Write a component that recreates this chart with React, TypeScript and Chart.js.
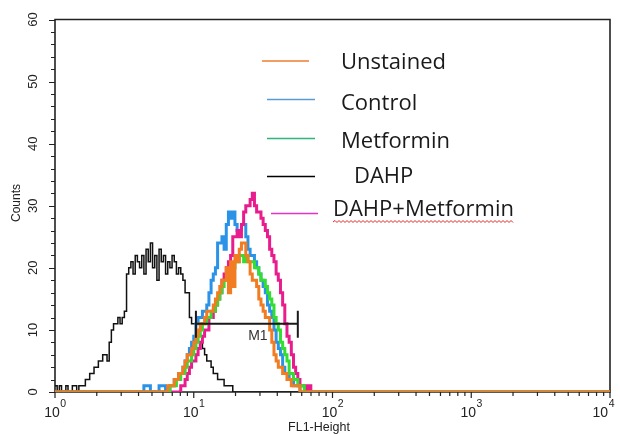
import { useEffect, useRef } from 'react';
import { Chart, registerables } from 'chart.js';

Chart.register(...registerables);

// Flow-cytometry histogram: 256 channels spanning four log decades of FL1-Height.
const channelCount = 256;
const channelsPerDecade = 64;
const decadeExponents = [0, 1, 2, 3, 4];
const countTicks = [0, 10, 20, 30, 40, 50, 60];
const countMinorStep = 2;
const countMax = 60;

const seriesNames = ['Unstained', 'Control', 'Metformin', 'DAHP', 'DAHP+Metformin'];

// Counts per channel; each list begins at its start channel, channels outside are 0.
const dahpStart = 0;
const dahpCounts = [
  1, 0, 1, 0, 0, 1, 0, 0, 1, 1,
  0, 1, 1, 1, 2, 2, 3, 3, 4, 4,
  5, 5, 6, 6, 5, 8, 10, 11, 11, 12,
  11, 12, 13, 19, 20, 21, 19, 22, 21, 20,
  22, 19, 23, 21, 24, 20, 22, 18, 23, 21,
  22, 19, 21, 20, 22, 21, 19, 20, 19, 18,
  16, 16, 12, 11, 11, 10, 8, 8, 7, 6,
  5, 5, 4, 3, 3, 2, 2, 2, 1, 1,
  1, 1, 0, 0,
];

const peakStart = 40;
const unstainedCounts = [
  0, 0, 0, 0, 0, 0, 0, 0, 0, 0,
  0, 0, 1, 1, 1, 2, 2, 3, 3, 4,
  5, 6, 6, 7, 8, 9, 10, 11, 11, 12,
  13, 13, 13, 14, 15, 16, 17, 18, 18, 20,
  16, 21, 17, 22, 21, 23, 24, 24, 22, 21,
  19, 18, 18, 17, 15, 14, 13, 12, 12, 10,
  8, 6, 5, 4, 4, 3, 3, 2, 2, 1,
  1, 1, 1, 0,
];
const controlCounts = [
  0, 1, 1, 1, 0, 0, 0, 0, 1, 1,
  1, 0, 0, 1, 1, 2, 2, 3, 3, 4,
  5, 6, 7, 8, 9, 11, 12, 12, 13, 13,
  14, 16, 18, 19, 20, 24, 24, 25, 23, 27,
  29, 28, 29, 27, 26, 26, 27, 27, 25, 23,
  22, 22, 21, 20, 19, 18, 17, 16, 14, 13,
  12, 10, 8, 7, 6, 4, 3, 3, 2, 2,
  1, 1, 1, 0,
];
const metforminCounts = [
  0, 0, 0, 0, 0, 0, 0, 0, 0, 0,
  0, 0, 0, 1, 1, 1, 2, 2, 3, 3,
  4, 5, 5, 6, 7, 8, 9, 10, 11, 11,
  12, 12, 13, 13, 14, 15, 16, 17, 18, 18,
  19, 19, 20, 21, 21, 22, 22, 21, 22, 21,
  21, 21, 20, 20, 19, 18, 18, 17, 16, 15,
  14, 12, 11, 10, 8, 7, 6, 5, 3, 3,
  2, 2, 1, 1, 1, 0,
];
const dahpMetforminCounts = [
  0, 0, 0, 0, 0, 0, 0, 0, 0, 0,
  0, 0, 0, 0, 0, 0, 0, 0, 1, 1,
  2, 3, 4, 5, 5, 6, 7, 8, 9, 10,
  10, 12, 12, 13, 14, 15, 16, 18, 19, 20,
  21, 22, 25, 25, 26, 25, 27, 29, 30, 30,
  31, 32, 30, 29, 29, 28, 27, 26, 25, 23,
  22, 21, 19, 18, 16, 14, 11, 9, 8, 6,
  4, 3, 2, 1, 1, 1, 0, 1, 0, 0,
];

// Gate M1 (channel range) and the count level where its bar is drawn.
const markerName = 'M1';
const markerChannels = [65, 112];
const markerLevel = 11;

const curveColors = ['#f27c22', '#2a93e8', '#33dd33', '#111111', '#e81c8c'];
const legendColors = ['#ed7d31', '#5b9bd5', '#2fb47b', '#000000', '#e233c8'];

function toSteps(start: number, counts: number[]) {
  const pts: { x: number; y: number }[] = [];
  for (let ch = 0; ch < channelCount; ch++) {
    const i = ch - start;
    pts.push({ x: ch, y: i >= 0 && i < counts.length ? counts[i] : 0 });
  }
  pts.push({ x: channelCount, y: 0 });
  return pts;
}

const AXIS_FONT = '"Liberation Sans", Arial, sans-serif';
const LEGEND_FONT = '"Open Sans", "Noto Sans", sans-serif';

const framePlugin = {
  id: 'cytometryFrame',
  beforeDatasetsDraw(chart: any) {
    const { ctx, chartArea } = chart;
    const xs = chart.scales.x;
    const ys = chart.scales.y;
    const { left, right, top, bottom } = chartArea;
    ctx.save();

    // box
    ctx.strokeStyle = '#222';
    ctx.lineWidth = 1.6;
    ctx.beginPath();
    ctx.moveTo(left, bottom);
    ctx.lineTo(left, top);
    ctx.lineTo(right, top);
    ctx.lineTo(right, bottom);
    ctx.lineTo(left, bottom);
    ctx.stroke();

    // y ticks
    ctx.lineWidth = 1.2;
    ctx.beginPath();
    for (let v = 0; v <= countMax; v += countMinorStep) {
      const y = Math.round(ys.getPixelForValue(v)) + 0.5;
      const major = countTicks.includes(v);
      ctx.moveTo(left, y);
      ctx.lineTo(left - (major ? 6 : 4), y);
    }
    // x ticks (log decades)
    for (let k = 0; k < decadeExponents.length; k++) {
      const xd = xs.getPixelForValue(decadeExponents[k] * channelsPerDecade);
      ctx.moveTo(xd, bottom);
      ctx.lineTo(xd, bottom + 6);
      if (k < decadeExponents.length - 1) {
        for (let m = 2; m <= 9; m++) {
          const x = xs.getPixelForValue((decadeExponents[k] + Math.log10(m)) * channelsPerDecade);
          ctx.moveTo(x, bottom);
          ctx.lineTo(x, bottom + 4);
        }
      }
    }
    ctx.stroke();

    // y tick labels (rotated)
    ctx.fillStyle = '#222';
    ctx.font = `13px ${AXIS_FONT}`;
    ctx.textAlign = 'center';
    ctx.textBaseline = 'middle';
    for (const v of countTicks) {
      const y = ys.getPixelForValue(v);
      ctx.save();
      ctx.translate(33, y);
      ctx.rotate(-Math.PI / 2);
      ctx.fillText(String(v), 0, 0);
      ctx.restore();
    }
    // y title
    ctx.save();
    ctx.font = `12px ${AXIS_FONT}`;
    ctx.translate(17, 203);
    ctx.rotate(-Math.PI / 2);
    ctx.fillText('Counts', 0, 0);
    ctx.restore();

    // x decade labels 10^k
    ctx.textAlign = 'left';
    ctx.textBaseline = 'alphabetic';
    for (const e of decadeExponents) {
      const x = xs.getPixelForValue(e * channelsPerDecade);
      ctx.font = `14px ${AXIS_FONT}`;
      const wb = ctx.measureText('10').width;
      ctx.font = `10.5px ${AXIS_FONT}`;
      const ws = ctx.measureText(String(e)).width;
      let l = x - (wb + ws) / 2;
      if (l + wb + ws > 614) l = 614 - wb - ws;
      ctx.font = `14px ${AXIS_FONT}`;
      ctx.fillText('10', l, 417);
      ctx.font = `10.5px ${AXIS_FONT}`;
      ctx.fillText(String(e), l + wb + 0.5, 407);
    }
    // x title
    ctx.font = `12.5px ${AXIS_FONT}`;
    ctx.textAlign = 'center';
    ctx.fillText('FL1-Height', 319, 431);

    ctx.restore();
  },
  afterDatasetsDraw(chart: any) {
    const { ctx } = chart;
    const xs = chart.scales.x;
    const ys = chart.scales.y;
    ctx.save();

    // gate marker
    const x1 = xs.getPixelForValue(markerChannels[0]);
    const x2 = xs.getPixelForValue(markerChannels[1]);
    const ym = ys.getPixelForValue(markerLevel);
    ctx.strokeStyle = '#1a1a1a';
    ctx.lineWidth = 2;
    ctx.beginPath();
    ctx.moveTo(x1, ym);
    ctx.lineTo(x2, ym);
    ctx.moveTo(x1, ym - 13);
    ctx.lineTo(x1, ym + 14);
    ctx.moveTo(x2, ym - 13);
    ctx.lineTo(x2, ym + 14);
    ctx.stroke();
    ctx.fillStyle = '#333';
    ctx.font = `14px ${AXIS_FONT}`;
    ctx.textAlign = 'center';
    ctx.textBaseline = 'alphabetic';
    ctx.fillText(markerName, (x1 + x2) / 2 + 11, 340);

    // legend
    const rows = [
      { x1: 262, x2: 309, y: 61, tx: 341, ty: 69 },
      { x1: 267, x2: 315, y: 99.5, tx: 341, ty: 110 },
      { x1: 267, x2: 315, y: 138.5, tx: 341, ty: 148 },
      { x1: 267, x2: 315, y: 176.5, tx: 354, ty: 183 },
      { x1: 271, x2: 318, y: 213.5, tx: 333, ty: 216 },
    ];
    ctx.font = `22px ${LEGEND_FONT}`;
    ctx.textAlign = 'left';
    rows.forEach((r, i) => {
      ctx.strokeStyle = legendColors[i];
      ctx.lineWidth = 1.4;
      ctx.beginPath();
      ctx.moveTo(r.x1, r.y);
      ctx.lineTo(r.x2, r.y);
      ctx.stroke();
      ctx.fillStyle = '#1a1a1a';
      ctx.fillText(seriesNames[i], r.tx, r.ty);
    });
    // wavy underline under the last legend entry
    const last = rows[rows.length - 1];
    const w = ctx.measureText(seriesNames[seriesNames.length - 1]).width;
    ctx.strokeStyle = '#e02424';
    ctx.lineWidth = 1;
    ctx.beginPath();
    let up = true;
    ctx.moveTo(last.tx, last.ty + 6);
    for (let x = last.tx + 2; x <= last.tx + w; x += 2) {
      ctx.lineTo(x, last.ty + (up ? 4.5 : 6.5));
      up = !up;
    }
    ctx.stroke();

    ctx.restore();
  },
};

export default function App() {
  const ref = useRef<HTMLCanvasElement | null>(null);

  useEffect(() => {
    if (!ref.current) return;
    const series = [
      { start: peakStart, counts: unstainedCounts, order: 0, width: 3 },
      { start: peakStart, counts: controlCounts, order: 3, width: 3 },
      { start: peakStart, counts: metforminCounts, order: 1, width: 3 },
      { start: dahpStart, counts: dahpCounts, order: 4, width: 1.5 },
      { start: peakStart, counts: dahpMetforminCounts, order: 2, width: 3 },
    ];
    const chart = new Chart(ref.current, {
      type: 'line',
      data: {
        datasets: series.map((s, i) => ({
          label: seriesNames[i],
          data: toSteps(s.start, s.counts),
          borderColor: curveColors[i],
          backgroundColor: curveColors[i],
          borderWidth: s.width,
          stepped: true,
          fill: false,
          pointRadius: 0,
          order: s.order,
        })),
      },
      options: {
        responsive: false,
        animation: false,
        devicePixelRatio: 1,
        events: [],
        layout: { padding: { left: 55, right: 10, top: 19.5, bottom: 42 } },
        plugins: { legend: { display: false }, tooltip: { enabled: false } },
        scales: {
          x: { type: 'linear', min: 0, max: channelCount, display: false },
          y: { type: 'linear', min: 0, max: countMax, display: false },
        },
      },
      plugins: [framePlugin],
    } as any);
    return () => chart.destroy();
  }, []);

  return (
    <div style={{ position: 'absolute', left: 0, top: 0, width: 620, height: 434, background: '#fff' }}>
      <canvas ref={ref} width={620} height={434} style={{ display: 'block' }} />
    </div>
  );
}
